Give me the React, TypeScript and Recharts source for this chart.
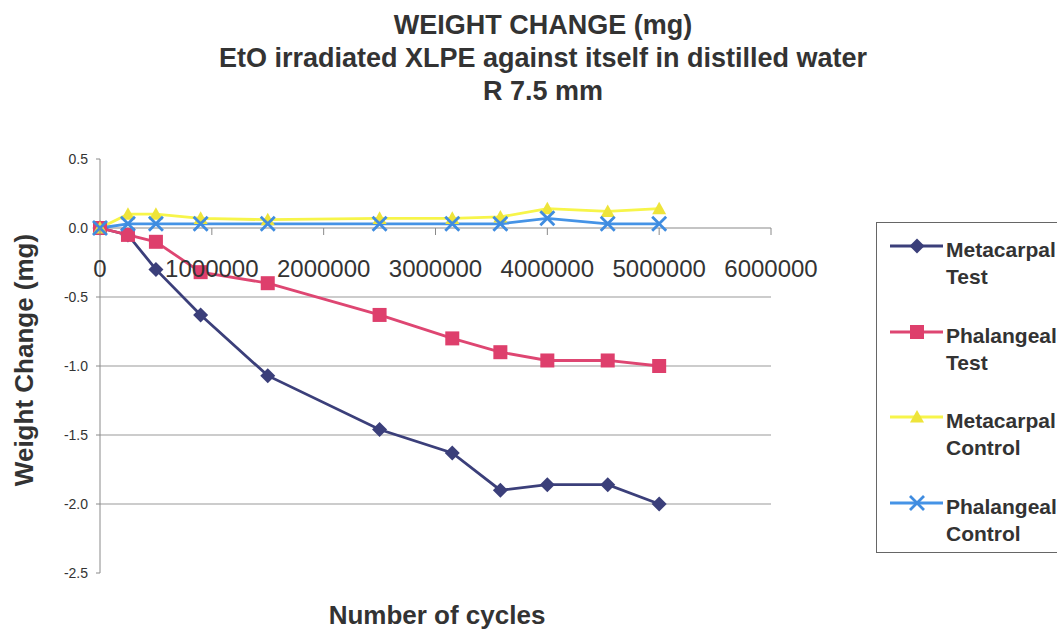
import { LineChart, Line, XAxis, YAxis, ReferenceLine } from "recharts";

const cycles = [0, 250000, 500000, 900000, 1500000, 2500000, 3150000, 3580000, 4000000, 4540000, 5000000];
const metacarpalTest = [0, -0.05, -0.3, -0.63, -1.07, -1.46, -1.63, -1.9, -1.86, -1.86, -2.0];
const phalangealTest = [0, -0.05, -0.1, -0.32, -0.4, -0.63, -0.8, -0.9, -0.96, -0.96, -1.0];
const metacarpalControl = [0, 0.1, 0.1, 0.07, 0.06, 0.07, 0.07, 0.08, 0.14, 0.12, 0.14];
const phalangealControl = [0, 0.03, 0.03, 0.03, 0.03, 0.03, 0.03, 0.03, 0.07, 0.03, 0.03];

const xTicks = [0, 1000000, 2000000, 3000000, 4000000, 5000000, 6000000];
const yTicks = [0.5, 0, -0.5, -1, -1.5, -2, -2.5];
const gridValues = [-0.5, -1, -1.5, -2];

const titleLines = [
  "WEIGHT CHANGE (mg)",
  "EtO irradiated XLPE against itself in distilled water",
  "R 7.5 mm",
];

const data = cycles.map((c, i) => ({
  cycles: c,
  mt: metacarpalTest[i],
  pt: phalangealTest[i],
  mc: metacarpalControl[i],
  pc: phalangealControl[i],
}));

const FONT = "'Liberation Sans', Arial, sans-serif";
const TEXT = "#333";
const AXIS = "#8a8a8a";

// plot box in page pixels
const W = 1057;
const H = 630;
const PLOT = { left: 100, right: 771, top: 159, bottom: 573 };
const Y_MIN = -2.5;
const Y_MAX = 0.5;
const zeroY = PLOT.top + (Y_MAX / (Y_MAX - Y_MIN)) * (PLOT.bottom - PLOT.top);

type Shape = "diamond" | "square" | "triangle" | "cross";

const marker = (shape: Shape, cx: number, cy: number, color: string, key?: string | number) => {
  if (shape === "diamond") {
    const s = 7.5;
    return <path key={key} d={`M${cx},${cy - s}L${cx + s},${cy}L${cx},${cy + s}L${cx - s},${cy}Z`} fill={color} />;
  }
  if (shape === "square") {
    const s = 7;
    return <rect key={key} x={cx - s} y={cy - s} width={s * 2} height={s * 2} fill={color} />;
  }
  if (shape === "triangle") {
    const s = 7;
    return <path key={key} d={`M${cx},${cy - s}L${cx + s},${cy + s * 0.8}L${cx - s},${cy + s * 0.8}Z`} fill={color} />;
  }
  const s = 7;
  return (
    <path
      key={key}
      d={`M${cx - s},${cy - s}L${cx + s},${cy + s}M${cx + s},${cy - s}L${cx - s},${cy + s}`}
      stroke={color}
      strokeWidth={2.8}
    />
  );
};

const series = [
  { key: "mt", name: ["Metacarpal", "Test"], color: "#3b3f7a", markerColor: "#3b3f7a", shape: "diamond" as Shape },
  { key: "pt", name: ["Phalangeal", "Test"], color: "#de4672", markerColor: "#de3f6c", shape: "square" as Shape },
  { key: "mc", name: ["Metacarpal", "Control"], color: "#f7f54a", markerColor: "#eee43a", shape: "triangle" as Shape },
  { key: "pc", name: ["Phalangeal", "Control"], color: "#4593e6", markerColor: "#3f8ce0", shape: "cross" as Shape },
];

const XTick = (props: any) => {
  const { x, payload } = props;
  return (
    <g>
      <line x1={x} x2={x} y1={zeroY} y2={zeroY + 7} stroke={AXIS} />
      <text x={x} y={zeroY + 40} textAnchor="middle" dominantBaseline="central" fontSize={24} fill={TEXT} fontFamily={FONT}>
        {payload.value}
      </text>
    </g>
  );
};

const LegendBox = () => (
  <div
    style={{
      position: "absolute",
      left: 876,
      top: 222,
      width: 200,
      height: 331,
      border: "1px solid #666",
      boxSizing: "border-box",
      background: "#fff",
      fontFamily: FONT,
    }}
  >
    {series.map((s, i) => (
      <div key={s.key} style={{ position: "absolute", left: 0, top: 23 + i * 85.5 - 14 }}>
        <svg width={70} height={28} style={{ position: "absolute", left: 0, top: 0 }}>
          <line x1={13} x2={66} y1={14} y2={14} stroke={s.color} strokeWidth={2.8} />
          {marker(s.shape, 40, 14, s.markerColor)}
        </svg>
        <div
          style={{
            position: "absolute",
            left: 69,
            top: 4,
            fontSize: 21,
            fontWeight: "bold",
            lineHeight: "27px",
            color: TEXT,
            whiteSpace: "nowrap",
          }}
        >
          {s.name[0]}
          <br />
          {s.name[1]}
        </div>
      </div>
    ))}
  </div>
);

export default function App() {
  return (
    <div style={{ position: "absolute", left: 0, top: 0, width: W, height: H, overflow: "hidden", background: "#fff" }}>
      {titleLines.map((t, i) => (
        <div
          key={t}
          style={{
            position: "absolute",
            left: 543,
            top: 9 + i * 33,
            transform: "translateX(-50%)",
            whiteSpace: "nowrap",
            fontFamily: FONT,
            fontWeight: "bold",
            fontSize: 27,
            lineHeight: "33px",
            color: TEXT,
          }}
        >
          {t}
        </div>
      ))}
      <div
        style={{
          position: "absolute",
          left: 24,
          top: 360,
          transform: "translate(-50%, -50%) rotate(-90deg)",
          whiteSpace: "nowrap",
          fontFamily: FONT,
          fontWeight: "bold",
          fontSize: 26,
          color: TEXT,
        }}
      >
        Weight Change (mg)
      </div>
      <div
        style={{
          position: "absolute",
          left: 437,
          top: 615,
          transform: "translate(-50%, -50%)",
          whiteSpace: "nowrap",
          fontFamily: FONT,
          fontWeight: "bold",
          fontSize: 26,
          color: TEXT,
        }}
      >
        Number of cycles
      </div>
      <div style={{ position: "absolute", left: 0, top: 0 }}>
        <LineChart
          width={W}
          height={H}
          data={data}
          margin={{ top: PLOT.top, right: W - PLOT.right, bottom: H - PLOT.bottom - 20, left: PLOT.left - 60 }}
        >
          <XAxis
            type="number"
            dataKey="cycles"
            domain={[0, 6000000]}
            ticks={xTicks}
            interval={0}
            axisLine={false}
            tickLine={false}
            tick={<XTick />}
            height={20}
          />
          <YAxis
            type="number"
            domain={[Y_MIN, Y_MAX]}
            ticks={yTicks}
            interval={0}
            width={60}
            tickFormatter={(v: number) => v.toFixed(1)}
            axisLine={{ stroke: AXIS }}
            tickLine={{ stroke: AXIS }}
            tickSize={4}
            tickMargin={8}
            tick={{ fontSize: 14, fill: TEXT, fontFamily: FONT }}
          />
          {gridValues.map((v) => (
            <ReferenceLine key={v} y={v} stroke="#999" strokeWidth={1.2} />
          ))}
          <ReferenceLine y={0} stroke={AXIS} strokeWidth={1.2} />
          {series.map((s) => (
            <Line
              key={s.key}
              type="linear"
              dataKey={s.key}
              stroke={s.color}
              strokeWidth={2.8}
              isAnimationActive={false}
              activeDot={false}
              dot={(p: any) => marker(s.shape, p.cx, p.cy, s.markerColor, `${s.key}-${p.index}`)}
            />
          ))}
        </LineChart>
      </div>
      <LegendBox />
    </div>
  );
}
